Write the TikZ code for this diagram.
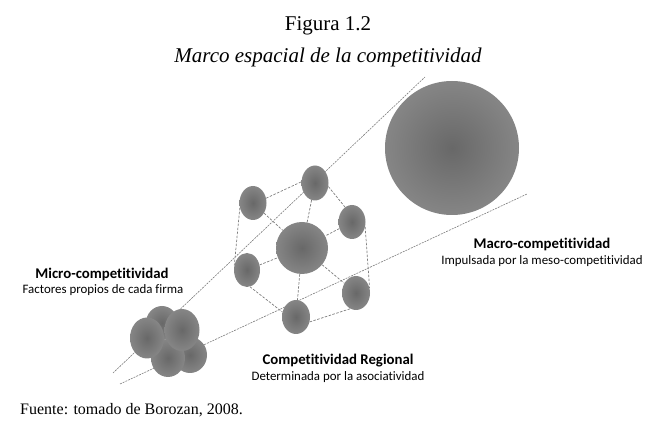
\documentclass[tikz,border=0pt]{standalone}
\usepackage{fontspec}
\setmainfont{Liberation Serif}
\newfontfamily\lblfont[Ligatures=NoCommon]{Carlito}
\usetikzlibrary{shapes.geometric,backgrounds}
\definecolor{balldark}{RGB}{104,104,104}
\definecolor{balllight}{RGB}{156,156,156}
\definecolor{ballrim}{RGB}{168,168,168}
\definecolor{linegray}{RGB}{125,125,125}
\pgfdeclareradialshading{ballshade}{\pgfpoint{0bp}{0bp}}{color(0bp)=(balldark); color(44bp)=(balllight); color(50bp)=(ballrim)}
\begin{document}
\begin{tikzpicture}[x=1pt,y=-1pt,
  ball/.style={ellipse, inner sep=0pt, shading=ballshade, draw=none},
  longline/.style={linegray, line width=0.6pt, dash pattern=on 2pt off 1pt},
  link/.style={linegray, line width=0.7pt, dash pattern=on 2.5pt off 1.5pt},
  titletxt/.style={font=\fontsize{21}{25}\selectfont},
  headtxt/.style={font=\lblfont\bfseries\fontsize{14.8}{18}\selectfont},
  subtxt/.style={font=\lblfont\fontsize{12.9}{15}\selectfont}]
\useasboundingbox (0,0) rectangle (656,435);

% titles
\node[titletxt] (tit1) at (328,26) {Figura 1.2};
\node[titletxt, font=\fontsize{21}{25}\selectfont\itshape] (tit2) at (328,57) {Marco espacial de la competitividad};

% long guide lines
\coordinate (la) at (113,373);
\coordinate (lb) at (425,77);
\coordinate (lc) at (120,384);
\coordinate (ld) at (527,194);
\draw[longline] (la) -- (lb);
\draw[longline] (lc) -- (ld);

% macro circle
\node[ball, minimum width=134pt, minimum height=134pt] (macro) at (452,148) {};

% regional cluster
\node[ball, minimum width=52pt, minimum height=52pt] (c) at (302,248) {};
\node[ball, minimum width=27pt, minimum height=35pt] (t) at (315,183) {};
\node[ball, minimum width=27pt, minimum height=34pt] (ul) at (253,203) {};
\node[ball, minimum width=27pt, minimum height=34pt] (ru) at (352,222) {};
\node[ball, minimum width=26pt, minimum height=34pt] (ll) at (247,270) {};
\node[ball, minimum width=28pt, minimum height=34pt] (rl) at (356,293) {};
\node[ball, minimum width=28pt, minimum height=34pt] (b) at (296,317) {};

\begin{pgfonlayer}{background}
\draw[link] (ul.20) -- (t.175);
\draw[link] (t.-15) -- (ru.115);
\draw[link] (t) -- (c);
\draw[link] (ul) -- (c);
\draw[link] (ru) -- (c);
\draw[link] (ll) -- (c);
\draw[link] (c) -- (rl);
\draw[link] (c) -- (b);
\draw[link] (ul.200) -- (ll.160);
\draw[link] (ru.-20) -- (rl.20);
\draw[link] (ll.-80) -- (b.160);
\draw[link] (b.-20) -- (rl.-110);
\end{pgfonlayer}

% micro cluster
\node[ball, minimum width=32pt, minimum height=34pt] (m1) at (162,323) {};
\node[ball, minimum width=34pt, minimum height=36pt] (m2) at (190,355) {};
\node[ball, minimum width=34pt, minimum height=38pt] (m3) at (168,358) {};
\node[ball, minimum width=34pt, minimum height=41pt] (m4) at (147,338) {};
\node[ball, minimum width=35pt, minimum height=42pt] (m5) at (182,330) {};

% labels
\node[headtxt] (microh) at (102,274) {Micro-competitividad};
\node[subtxt] (micros) at (103,290) {Factores propios de cada firma};
\node[headtxt] (regh) at (338,361) {Competitividad Regional};
\node[subtxt] (regs) at (338,377) {Determinada por la asociatividad};
\node[headtxt] (macroh) at (542,244) {Macro-competitividad};
\node[subtxt] (macros) at (542,261) {Impulsada por la meso-competitividad};

\node[font=\fontsize{16}{19}\selectfont, anchor=west, inner sep=0pt] (src) at (20,410) {Fuente: tomado de Borozan, 2008.};
\end{tikzpicture}
\end{document}
